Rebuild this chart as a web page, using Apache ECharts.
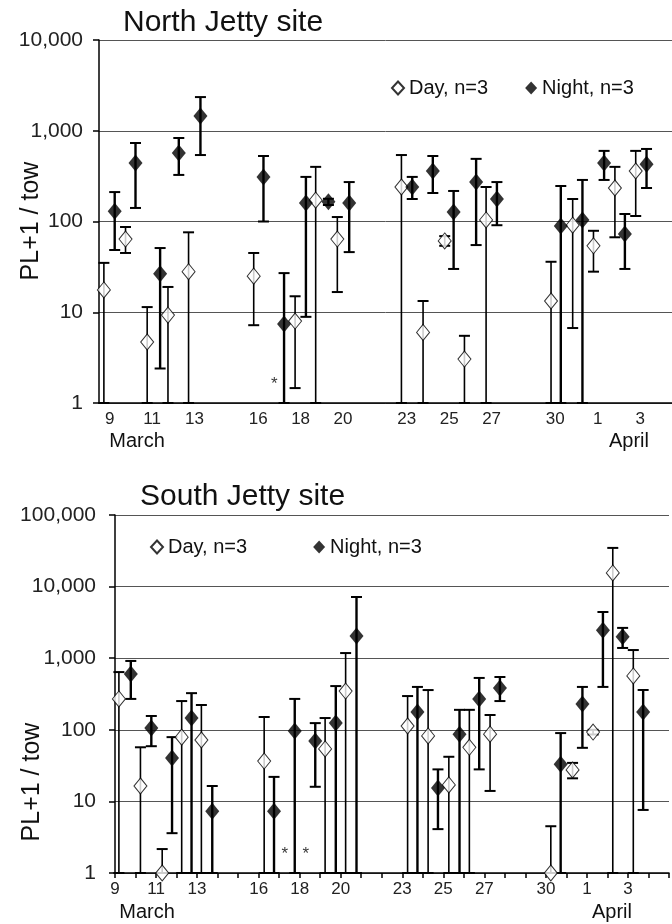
<!DOCTYPE html>
<html>
<head>
<meta charset="utf-8">
<script src="https://cdn.jsdelivr.net/npm/echarts@6.0.0/dist/echarts.min.js"></script>
<style>
html, body { margin: 0; padding: 0; background: #fff; }
#main { width: 672px; height: 924px; }
</style>
</head>
<body>
<div id="main"></div>
<script>
// dates on the x axis, 9 March .. 5 April
var dayNames = ['9', '10', '11', '12', '13', '14', '15', '16', '17', '18', '19', '20', '21', '22',
    '23', '24', '25', '26', '27', '28', '29', '30', '31', '1', '2', '3', '4', '5'];
var shownDays = ['9', '11', '13', '16', '18', '20', '23', '25', '27', '30', '1', '3'];

// North Jetty: x = days after 9 March 00:00, value = mean PL+1, low/high = error bar ends
var northDayX = [0.23, 1.25, 2.27, 3.25, 4.22, 7.29, 9.24, 10.21, 11.23, 14.25, 15.27, 16.29, 17.22, 18.24, 21.30, 22.32, 23.30, 24.31, 25.29];
var northDayMean = [17.6, 64, 4.7, 9.3, 28, 25, 8.0, 172, 64, 240, 6.0, 61, 3.05, 104, 13.3, 91, 54, 234, 360];
var northDayLow = [1, 45, 1, 1, 1, 7.2, 1.46, 1, 16.7, 1, 1, 54, 1, 1, 1, 6.7, 28, 67, 115];
var northDayHigh = [35, 87, 11.4, 19, 76, 45, 15, 400, 112, 540, 13.3, 69, 5.5, 240, 36, 177, 79, 400, 600];

var northNightX = [0.74, 1.72, 2.88, 3.76, 4.78, 7.75, 8.72, 9.75, 10.81, 11.79, 14.76, 15.73, 16.71, 17.77, 18.75, 21.76, 22.78, 23.80, 24.78, 25.80];
var northNightMean = [130, 441, 26.5, 569, 1450, 310, 7.4, 160, 165, 160, 240, 360, 127, 272, 177, 89, 104, 441, 73, 428];
var northNightLow = [48.5, 141, 2.4, 326, 540, 100, 1, 8.9, 152, 46, 177, 206, 30, 55, 91, 1, 1, 287, 30, 234];
var northNightHigh = [211, 733, 51, 832, 2350, 527, 27, 310, 178, 272, 310, 527, 217, 490, 272, 246, 287, 600, 121, 630];

// South Jetty
var southDayX = [0.19, 1.24, 2.30, 3.25, 4.21, 7.27, 10.24, 11.24, 14.26, 15.26, 16.27, 17.27, 18.28, 21.24, 22.30, 23.30, 24.26, 25.26];
var southDayMean = [270, 16.4, 1.0, 79, 72, 36.6, 54, 348, 113, 82, 17, 57, 87, 1.0, 27.5, 93, 15500, 565];
var southDayLow = [1, 1, 1, 1, 1, 1, 1, 1, 1, 1, 1, 1, 14, 1, 21, 86, 1, 1];
var southDayHigh = [640, 57, 2.16, 252, 222, 151, 146, 1180, 296, 359, 42, 190, 161, 4.5, 34.5, 100, 34700, 1300];

var southNightX = [0.77, 1.77, 2.78, 3.73, 4.74, 7.75, 8.76, 9.76, 10.76, 11.77, 14.74, 15.74, 16.79, 17.75, 18.76, 21.72, 22.78, 23.78, 24.74, 25.74];
var southNightMean = [600, 106, 40.5, 146, 7.3, 7.3, 96, 70, 124, 2040, 177, 15.4, 87, 270, 383, 33, 230, 2460, 1990, 177];
var southNightLow = [270, 59, 3.6, 1, 1, 1, 1, 16, 1, 1, 1, 4.1, 1, 28, 252, 1, 56, 397, 1390, 7.6];
var southNightHigh = [915, 156, 79, 325, 16.4, 22, 270, 124, 408, 7160, 397, 28, 190, 530, 546, 90, 397, 4420, 2650, 360];

// samples with no larvae (asterisks)
var northZeroX = [8.26];
var southZeroX = [8.28, 9.30];

var fontFam = '"Liberation Sans", Arial, sans-serif';

function zip2(a, b) {
    var out = [];
    for (var i = 0; i < a.length; i++) out.push([a[i], b[i]]);
    return out;
}
function zip3(a, b, c) {
    var out = [];
    for (var i = 0; i < a.length; i++) out.push([a[i], b[i], c[i]]);
    return out;
}

// 误差线
function makeBars(w) {
    return function(params, api) {
        var hi = api.coord([api.value(0), api.value(2)]);
        var lo = api.coord([api.value(0), api.value(1)]);
        var cap = 5.5;
        return {
            type: 'group',
            children: [
                { type: 'line', shape: { x1: hi[0], y1: hi[1], x2: lo[0], y2: lo[1] }, style: { stroke: '#000', lineWidth: w } },
                { type: 'line', shape: { x1: hi[0] - cap, y1: hi[1], x2: hi[0] + cap, y2: hi[1] }, style: { stroke: '#000', lineWidth: 2 } },
                { type: 'line', shape: { x1: lo[0] - cap, y1: lo[1], x2: lo[0] + cap, y2: lo[1] }, style: { stroke: '#000', lineWidth: 2 } }
            ]
        };
    };
}

function catAxis(grid, cats, gap) {
    return {
        type: 'category',
        gridIndex: grid,
        data: cats,
        boundaryGap: gap,
        axisLine: { onZero: false, lineStyle: { color: '#000', width: 1.5 } },
        axisTick: { interval: 0, length: 5, lineStyle: { color: '#000', width: 1.5 } },
        axisLabel: {
            interval: 0, margin: 8, fontSize: 17, color: '#222', fontFamily: fontFam,
            formatter: function(v) { return shownDays.indexOf(v) >= 0 ? v : ''; }
        },
        splitLine: { show: false }
    };
}

function logAxis(grid, max, margin) {
    return {
        type: 'log',
        logBase: 10,
        gridIndex: grid,
        min: 1,
        max: max,
        axisLine: { show: true, lineStyle: { color: '#000', width: 1.5 } },
        axisTick: { show: true, length: 6, lineStyle: { color: '#000', width: 1.5 } },
        axisLabel: {
            margin: margin, fontSize: 21, color: '#222', fontFamily: fontFam,
            formatter: function(v) { return Math.round(v).toLocaleString('en-US'); }
        },
        splitLine: { show: true, lineStyle: { color: '#555', width: 1 } }
    };
}

function dayScatter(xi, yi, data) {
    return {
        type: 'scatter', name: 'Day, n=3', xAxisIndex: xi, yAxisIndex: yi,
        symbol: 'diamond', symbolSize: [13, 16], z: 4, silent: true,
        itemStyle: { color: '#fff', borderColor: '#000', borderWidth: 1 },
        data: data
    };
}
function nightScatter(xi, yi, data) {
    return {
        type: 'scatter', name: 'Night, n=3', xAxisIndex: xi, yAxisIndex: yi,
        symbol: 'diamond', symbolSize: [14, 17], z: 5, silent: true,
        itemStyle: { color: '#000' },
        data: data
    };
}
function barSeries(xi, yi, w, data) {
    return {
        type: 'custom', xAxisIndex: xi, yAxisIndex: yi, z: 2, silent: true,
        renderItem: makeBars(w), encode: { x: 0, y: [1, 2] }, data: data
    };
}
function starSeries(xi, yi, data) {
    return {
        type: 'scatter', xAxisIndex: xi, yAxisIndex: yi, symbolSize: 0, silent: true, z: 6,
        label: { show: true, position: 'inside', formatter: '*', fontSize: 17, color: '#000', fontFamily: fontFam },
        data: data
    };
}

function legendAt(left, top, gap) {
    return {
        left: left, top: top, padding: 0, itemWidth: 12, itemHeight: 13, itemGap: gap,
        selectedMode: false,
        textStyle: { fontSize: 20, color: '#111', fontFamily: fontFam },
        data: [{ name: 'Day, n=3', icon: 'diamond' }, { name: 'Night, n=3', icon: 'diamond' }]
    };
}

function label(txt, x, y, size, align, rot) {
    return {
        type: 'text', x: x, y: y, rotation: rot || 0, silent: true,
        style: { text: txt, fontSize: size, fontFamily: fontFam, fill: '#111', align: align, verticalAlign: 'middle' }
    };
}

var chart = echarts.init(document.getElementById('main'));
chart.setOption({
    animation: false,
    backgroundColor: '#fff',
    textStyle: { fontFamily: fontFam },
    grid: [
        { left: 99, top: 40, width: 582, height: 363 },
        { left: 115, top: 515, width: 564, height: 358 }
    ],
    xAxis: [
        catAxis(0, dayNames.slice(0, 27), true),
        { type: 'value', gridIndex: 0, min: 0, max: 27, show: false },
        catAxis(1, dayNames, false),
        { type: 'value', gridIndex: 1, min: 0, max: 27, show: false }
    ],
    yAxis: [
        logAxis(0, 10000, 16),
        logAxis(1, 100000, 19)
    ],
    legend: [
        legendAt(391, 78, 37),
        legendAt(150, 537, 66)
    ],
    graphic: [
        label('North Jetty site', 123, 22.5, 30, 'left'),
        label('South Jetty site', 140, 496.5, 30, 'left'),
        label('PL+1 / tow', 31, 221, 25, 'center', Math.PI / 2),
        label('PL+1 / tow', 32, 782, 25, 'center', Math.PI / 2),
        label('March', 137, 441, 20, 'center'),
        label('April', 629, 441, 20, 'center'),
        label('March', 147, 912, 20, 'center'),
        label('April', 612, 912, 20, 'center')
    ],
    series: [
        barSeries(1, 0, 1.6, zip3(northDayX, northDayLow, northDayHigh)),
        barSeries(1, 0, 2.4, zip3(northNightX, northNightLow, northNightHigh)),
        dayScatter(1, 0, zip2(northDayX, northDayMean)),
        nightScatter(1, 0, zip2(northNightX, northNightMean)),
        starSeries(1, 0, northZeroX.map(function(x) { return [x, 1.6]; })),

        barSeries(3, 1, 1.6, zip3(southDayX, southDayLow, southDayHigh)),
        barSeries(3, 1, 2.4, zip3(southNightX, southNightLow, southNightHigh)),
        dayScatter(3, 1, zip2(southDayX, southDayMean)),
        nightScatter(3, 1, zip2(southNightX, southNightMean)),
        starSeries(3, 1, southZeroX.map(function(x) { return [x, 1.85]; }))
    ]
});
</script>
</body>
</html>
